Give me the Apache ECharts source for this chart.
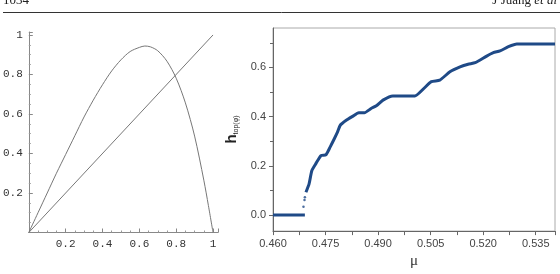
<!DOCTYPE html>
<html>
<head>
<meta charset="utf-8">
<script src="https://cdn.jsdelivr.net/npm/echarts@6/dist/echarts.min.js"></script>
<style>
  html, body { margin: 0; padding: 0; background: #fff; }
  #chart { width: 560px; height: 274px; }
</style>
</head>
<body>
<div id="chart"></div>
<script>
// left panel: map curve and the diagonal
var mapX = [0, 0.05, 0.1, 0.15, 0.2, 0.25, 0.3, 0.35, 0.4, 0.45, 0.5, 0.55, 0.6, 0.63, 0.66, 0.7, 0.75, 0.8, 0.85, 0.9, 0.95, 0.975, 1];
var mapY = [0, 0.10, 0.20, 0.30, 0.395, 0.49, 0.585, 0.67, 0.748, 0.818, 0.874, 0.916, 0.937, 0.944, 0.94, 0.92, 0.867, 0.781, 0.656, 0.488, 0.265, 0.136, 0];
var diagX = [0, 1];
var diagY = [0, 1];

// right panel: entropy vs mu
var flatMu = [0.460, 0.4691];
var flatH = [0, 0];
var gapMu = [0.4687, 0.4690, 0.4691];
var gapH = [0.034, 0.061, 0.073];
var mu = [0.4694, 0.4703, 0.4711, 0.4722, 0.4737, 0.4751, 0.4763, 0.4775, 0.4784, 0.4792, 0.4809, 0.4827,
          0.4845, 0.4861, 0.4880, 0.4895, 0.4914, 0.4942, 0.5005, 0.5028, 0.5052, 0.5076, 0.5105, 0.5134,
          0.5157, 0.5177, 0.5210, 0.5229, 0.5248, 0.5272, 0.5296, 0.5405];
var h = [0.093, 0.127, 0.181, 0.208, 0.242, 0.245, 0.276, 0.310, 0.337, 0.365, 0.385, 0.401,
         0.416, 0.416, 0.433, 0.444, 0.467, 0.484, 0.484, 0.511, 0.542, 0.548, 0.582, 0.602,
         0.613, 0.619, 0.646, 0.660, 0.667, 0.684, 0.695, 0.695];
var hTicks = [0, 0.2, 0.4, 0.6];
var hMinor = [0.1, 0.3, 0.5, 0.7];

var zip = function(a, b) {
    return a.map(function(v, i) { return [v, b[i]]; });
};

var monoLabel = {
    fontFamily: 'Liberation Mono',
    fontSize: 11,
    color: '#333'
};

var chart = echarts.init(document.getElementById('chart'));
chart.setOption({
    animation: false,
    graphic: [
        { type: 'text', left: 3, top: -6, style: { text: '1034', font: '13px "Liberation Serif"', fill: '#222' } },
        {
            type: 'text', right: 3, top: -6,
            style: {
                text: 'J Juang {i|et al}',
                font: '13px "Liberation Serif"', fill: '#222',
                rich: { i: { fontStyle: 'italic', fontFamily: 'Liberation Serif', fontSize: 13 } }
            }
        },
        { type: 'line', shape: { x1: 3, y1: 12.5, x2: 560, y2: 12.5 }, style: { stroke: '#333', lineWidth: 1 } }
    ],
    grid: [
        { left: 27.7, top: 32, width: 190.3, height: 200.5 },
        { left: 273, top: 28, right: 5, bottom: 42, show: true, borderColor: '#aaa', borderWidth: 1 }
    ],
    xAxis: [
        {
            gridIndex: 0, type: 'value', min: 0, max: 1.027, interval: 0.2,
            axisLine: { onZero: false, lineStyle: { color: '#888' } },
            axisTick: { inside: true, length: 4, lineStyle: { color: '#888' } },
            minorTick: { show: true, splitNumber: 4, length: 2, lineStyle: { color: '#999' } },
            splitLine: { show: false },
            axisLabel: Object.assign({
                margin: 6, showMaxLabel: false,
                formatter: function(v) { return v === 0 ? '' : (v >= 0.999 ? '1' : v.toFixed(1)); }
            }, monoLabel)
        },
        {
            gridIndex: 1, type: 'value', min: 0.46, max: 0.5405, interval: 0.015,
            name: 'μ', nameLocation: 'middle', nameGap: 20,
            nameTextStyle: { fontFamily: 'Liberation Serif', fontSize: 15, color: '#333' },
            axisLine: { onZero: false, lineStyle: { color: '#666' } },
            axisTick: { length: 4, lineStyle: { color: '#666' } },
            minorTick: { show: true, splitNumber: 2, length: 4, lineStyle: { color: '#666' } },
            splitLine: { show: false },
            axisLabel: {
                margin: 7, showMaxLabel: false,
                fontFamily: 'Liberation Sans', fontSize: 11, color: '#444',
                formatter: function(v) { return v.toFixed(3); }
            }
        }
    ],
    yAxis: [
        {
            gridIndex: 0, type: 'value', min: 0, max: 1.015, interval: 0.2,
            axisLine: { onZero: false, lineStyle: { color: '#888' } },
            axisTick: { inside: true, length: 4, lineStyle: { color: '#888' } },
            minorTick: { show: true, splitNumber: 4, length: 2, lineStyle: { color: '#999' } },
            splitLine: { show: false },
            axisLabel: Object.assign({
                margin: 6, showMaxLabel: false,
                formatter: function(v) { return v === 0 ? '' : (v >= 0.999 ? '1' : v.toFixed(1)); }
            }, monoLabel)
        },
        {
            gridIndex: 1, type: 'value', min: -0.065, max: 0.76, position: 'left',
            name: '{h|h}{s|top(φ)}', nameLocation: 'middle', nameGap: 31, nameRotate: 90,
            nameTextStyle: {
                rich: {
                    h: { fontFamily: 'Liberation Sans', fontSize: 15, fontWeight: 'bold', color: '#222' },
                    s: { fontFamily: 'Liberation Sans', fontSize: 7, color: '#222', verticalAlign: 'bottom', padding: [6, 0, 0, 0] }
                }
            },
            axisLine: { onZero: false, lineStyle: { color: '#666' } },
            axisTick: { length: 4, customValues: hTicks, lineStyle: { color: '#666' } },
            splitLine: { show: false },
            axisLabel: {
                margin: 7, customValues: hTicks,
                fontFamily: 'Liberation Sans', fontSize: 11, color: '#444',
                formatter: function(v) { return v.toFixed(1); }
            }
        },
        {
            gridIndex: 1, type: 'value', min: -0.065, max: 0.76, position: 'left',
            axisLine: { show: false },
            axisTick: { length: 3, customValues: hMinor, lineStyle: { color: '#666' } },
            axisLabel: { show: false },
            splitLine: { show: false }
        }
    ],
    series: [
        {
            type: 'line', xAxisIndex: 0, yAxisIndex: 0, smooth: 0.3, symbol: 'none',
            lineStyle: { color: '#777', width: 1 }, data: zip(mapX, mapY)
        },
        {
            type: 'line', xAxisIndex: 0, yAxisIndex: 0, symbol: 'none',
            lineStyle: { color: '#777', width: 1 }, data: zip(diagX, diagY)
        },
        {
            type: 'line', xAxisIndex: 1, yAxisIndex: 1, symbol: 'none',
            lineStyle: { color: '#1f4a87', width: 3 }, data: zip(flatMu, flatH)
        },
        {
            type: 'scatter', xAxisIndex: 1, yAxisIndex: 1, symbolSize: 2.5,
            itemStyle: { color: '#1f4a87' }, data: zip(gapMu, gapH)
        },
        {
            type: 'line', xAxisIndex: 1, yAxisIndex: 1, symbol: 'none', smooth: 0.2,
            lineStyle: { color: '#1f4a87', width: 3 }, data: zip(mu, h)
        }
    ]
});
</script>
</body>
</html>
